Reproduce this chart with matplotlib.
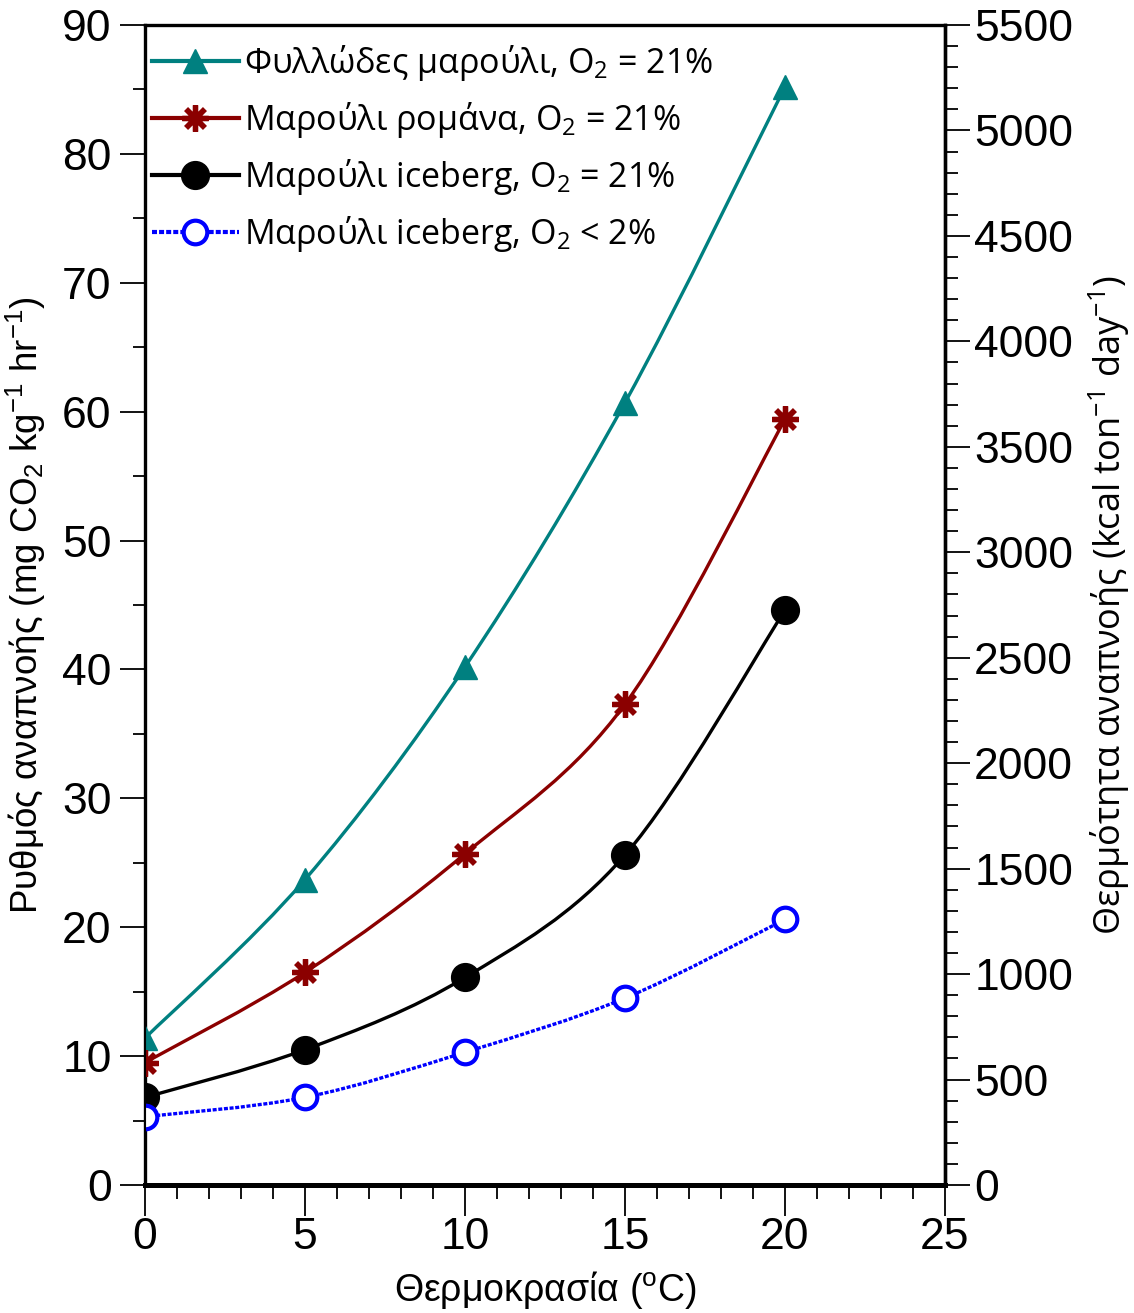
import matplotlib
matplotlib.use('Agg')
import matplotlib.pyplot as plt
import numpy as np
from matplotlib.path import Path
from matplotlib.patches import PathPatch
from matplotlib.ticker import MultipleLocator

plt.rcParams['font.family'] = ['Liberation Sans', 'DejaVu Sans']
plt.rcParams['mathtext.default'] = 'regular'

# δεδομένα (ανάγνωση από το γράφημα)
temp = [0, 5, 10, 15, 20]
fyllodes = [11.4, 23.7, 40.2, 60.7, 85.2]
romana = [9.5, 16.5, 25.7, 37.3, 59.4]
iceberg = [6.8, 10.5, 16.1, 25.6, 44.6]
iceberg_low = [5.3, 6.8, 10.3, 14.5, 20.6]

labels = ['Φυλλώδες μαρούλι, O$_2$ = 21%',
          'Μαρούλι ρομάνα, O$_2$ = 21%',
          'Μαρούλι iceberg, O$_2$ = 21%',
          'Μαρούλι iceberg, O$_2$ < 2%']


def smooth_path(x, y):  # ομαλή καμπύλη Bezier (Catmull-Rom) από τα σημεία
    p = np.column_stack([x, y]).astype(float)
    n = len(p)
    verts = [p[0]]
    codes = [Path.MOVETO]
    for i in range(n - 1):
        p0 = p[i - 1] if i > 0 else p[i]
        p3 = p[i + 2] if i + 2 < n else p[i + 1]
        c1 = p[i] + (p[i + 1] - p0) / 6
        c2 = p[i + 1] - (p3 - p[i]) / 6
        verts += [c1, c2, p[i + 1]]
        codes += [Path.CURVE4] * 3
    return Path(verts, codes)


fig = plt.figure(figsize=(11.34, 13.13), dpi=100)
ax = fig.add_axes([145/1134, 1 - 1185/1313, 800/1134, 1160/1313])

series = [
    (fyllodes, dict(color='#008080', marker='^', ms=17, mec='#008080', mfc='#008080'), '-'),
    (romana, dict(color='#8B0000', marker=(8, 2, 0), ms=19, mew=3.8, mec='#8B0000'), '-'),
    (iceberg, dict(color='black', marker='o', ms=20, mfc='black', mec='black'), '-'),
    (iceberg_low, dict(color='#0000FF', marker='o', ms=17, mfc='white', mec='#0000FF', mew=3), (0, (1.2, 0.5))),
]

for vals, mk, ls in series:
    patch = PathPatch(smooth_path(temp, vals), fill=False, edgecolor=mk['color'],
                      lw=2.4, linestyle=ls, zorder=2, capstyle='butt')
    ax.add_patch(patch)
    ax.plot(temp, vals, linestyle='None', zorder=3, **mk)

# γραμμές για το υπόμνημα
leg_handles = []
for vals, mk, ls in series:
    lh, = ax.plot([], [], linestyle=ls, lw=3, **mk)
    leg_handles.append(lh)

ax.set_xlim(0, 25)
ax.set_ylim(0, 90)
ax.xaxis.set_major_locator(MultipleLocator(5))
ax.xaxis.set_minor_locator(MultipleLocator(1))
ax.yaxis.set_major_locator(MultipleLocator(10))
ax.yaxis.set_minor_locator(MultipleLocator(5))
ax.tick_params(axis='both', which='major', direction='out', length=18, width=1.3,
               labelsize=32, pad=6)
ax.tick_params(axis='both', which='minor', direction='out', length=9, width=1.3)
ax.tick_params(axis='x', which='major', length=22, pad=1)
ax.tick_params(axis='x', which='minor', length=10)
for s in ['left', 'top', 'right']:
    ax.spines[s].set_linewidth(2.4)
ax.spines['bottom'].set_linewidth(3.6)

ax2 = ax.twinx()
ax2.set_ylim(0, 5500)
ax2.yaxis.set_major_locator(MultipleLocator(500))
ax2.yaxis.set_minor_locator(MultipleLocator(100))
ax2.tick_params(axis='y', which='major', direction='out', length=18, width=1.3,
                labelsize=32, pad=3)
ax2.tick_params(axis='y', which='minor', direction='out', length=9, width=1.3)
ax2.spines['right'].set_linewidth(2.4)

ax.set_xlabel('Θερμοκρασία ($^o$C)', fontsize=27, labelpad=8)
ax.set_ylabel('Ρυθμός αναπνοής (mg CO$_2$ kg$^{-1}$ hr$^{-1}$)', fontsize=26.5, labelpad=10)
ax2.set_ylabel('Θερμότητα αναπνοής (kcal ton$^{-1}$ day$^{-1}$)', fontsize=26,
               labelpad=10, family='Open Sans')

ax.legend(leg_handles, labels, loc='upper left', bbox_to_anchor=(0.0, 1 - 11/1160),
          frameon=False, prop={'family': 'Open Sans', 'size': 24.5},
          handlelength=2.55, handletextpad=0.15, labelspacing=0.5,
          borderaxespad=0.0, borderpad=0.2)

fig.savefig('out.png', dpi=100)
